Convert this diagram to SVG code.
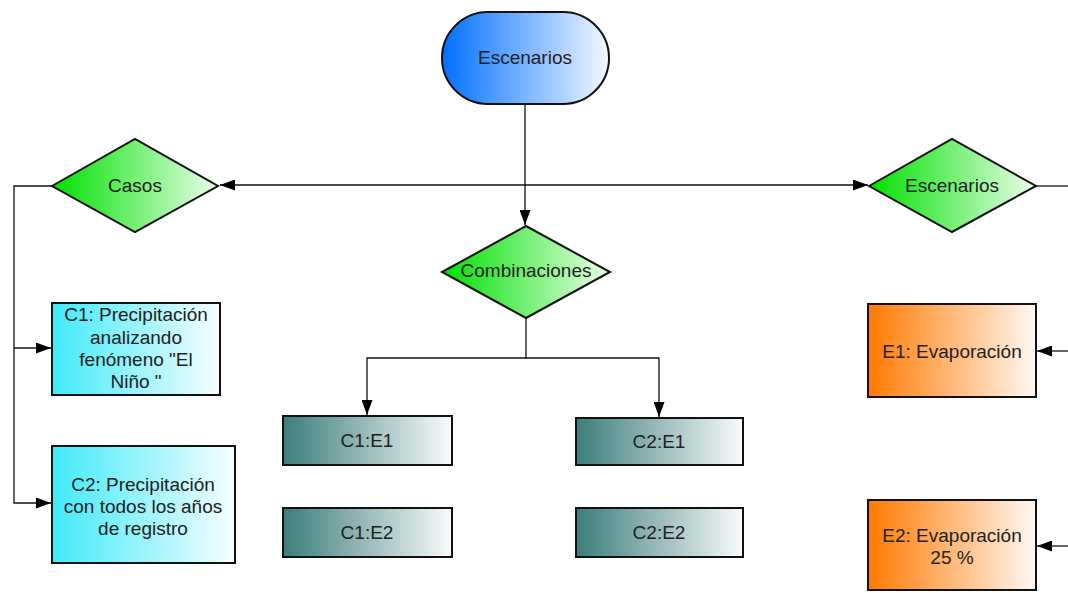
<svg xmlns="http://www.w3.org/2000/svg" width="1068" height="593" viewBox="0 0 1068 593">
<style>
.t{font-family:"Liberation Sans",Arial,sans-serif;font-size:19px;fill:#222;text-anchor:middle;dominant-baseline:central}
.n{stroke:#111;stroke-width:2}
.c{fill:none;stroke:#111;stroke-width:1.3}
</style>
<defs>
<linearGradient id="gb" x1="0" x2="1" y1="0" y2="0"><stop offset="0" stop-color="#0070ff"/><stop offset="1" stop-color="#f4f9ff"/></linearGradient>
<linearGradient id="gg" x1="0" x2="1" y1="0" y2="0"><stop offset="0" stop-color="#00e000"/><stop offset="1" stop-color="#eaffea"/></linearGradient>
<linearGradient id="gc" x1="0" x2="1" y1="0" y2="0"><stop offset="0" stop-color="#40eaf8"/><stop offset="1" stop-color="#f6feff"/></linearGradient>
<linearGradient id="gt" x1="0" x2="1" y1="0" y2="0"><stop offset="0" stop-color="#3c7d7b"/><stop offset="1" stop-color="#f8fbfb"/></linearGradient>
<linearGradient id="go" x1="0" x2="1" y1="0" y2="0"><stop offset="0" stop-color="#ff7a00"/><stop offset="1" stop-color="#fff8f2"/></linearGradient>
<marker id="a" viewBox="0 0 15 11" refX="15" refY="5.5" markerWidth="15" markerHeight="11" markerUnits="userSpaceOnUse" orient="auto"><path d="M0,0L15,5.5L0,11z" fill="#000"/></marker>
</defs>
<g id="connectors">
<path class="c" d="M525,104V225" marker-end="url(#a)"/>
<path class="c" d="M525,185H220" marker-end="url(#a)"/>
<path class="c" d="M525,185H868" marker-end="url(#a)"/>
<path class="c" d="M1036,186H1068"/>
<path class="c" d="M52,186H14V503H51" marker-end="url(#a)"/>
<path class="c" d="M14,348H51" marker-end="url(#a)"/>
<path class="c" d="M526,318V358H367V415" marker-end="url(#a)"/>
<path class="c" d="M526,358H659V417" marker-end="url(#a)"/>
<path class="c" d="M1068,351H1037" marker-end="url(#a)"/>
<path class="c" d="M1068,546H1037" marker-end="url(#a)"/>
</g>
<g id="n-escenarios-top"><rect class="n" x="442" y="12" width="167" height="92" rx="46" fill="url(#gb)"/><text class="t" x="525" y="57">Escenarios</text></g>
<g id="n-casos"><path class="n" d="M52,186L135,139L218,186L135,232z" fill="url(#gg)"/><text class="t" x="135" y="185">Casos</text></g>
<g id="n-escenarios"><path class="n" d="M869,186L952,139L1036,186L952,232z" fill="url(#gg)"/><text class="t" x="952" y="185">Escenarios</text></g>
<g id="n-combinaciones"><path class="n" d="M442,272L526,226L610,272L526,318z" fill="url(#gg)"/><text class="t" x="526" y="270">Combinaciones</text></g>
<g id="n-c1"><rect class="n" x="52" y="303" width="168" height="92" fill="url(#gc)"/>
<text class="t" x="136" y="314">C1: Precipitación</text><text class="t" x="136" y="337">analizando</text><text class="t" x="136" y="359">fenómeno "El</text><text class="t" x="136" y="381">Niño "</text></g>
<g id="n-c2"><rect class="n" x="52" y="446" width="183" height="117" fill="url(#gc)"/>
<text class="t" x="143" y="484">C2: Precipitación</text><text class="t" x="143" y="506">con todos los años</text><text class="t" x="143" y="528">de registro</text></g>
<g id="n-c1e1"><rect class="n" x="283" y="416" width="169" height="49" fill="url(#gt)"/><text class="t" x="367" y="440">C1:E1</text></g>
<g id="n-c2e1"><rect class="n" x="576" y="418" width="167" height="47" fill="url(#gt)"/><text class="t" x="659" y="441">C2:E1</text></g>
<g id="n-c1e2"><rect class="n" x="283" y="508" width="169" height="49" fill="url(#gt)"/><text class="t" x="367" y="532">C1:E2</text></g>
<g id="n-c2e2"><rect class="n" x="576" y="508" width="167" height="49" fill="url(#gt)"/><text class="t" x="659" y="532">C2:E2</text></g>
<g id="n-e1"><rect class="n" x="868" y="304" width="168" height="93" fill="url(#go)"/><text class="t" x="952" y="351">E1: Evaporación</text></g>
<g id="n-e2"><rect class="n" x="868" y="500" width="168" height="90" fill="url(#go)"/><text class="t" x="952" y="535">E2: Evaporación</text><text class="t" x="952" y="557">25 %</text></g>
</svg>
